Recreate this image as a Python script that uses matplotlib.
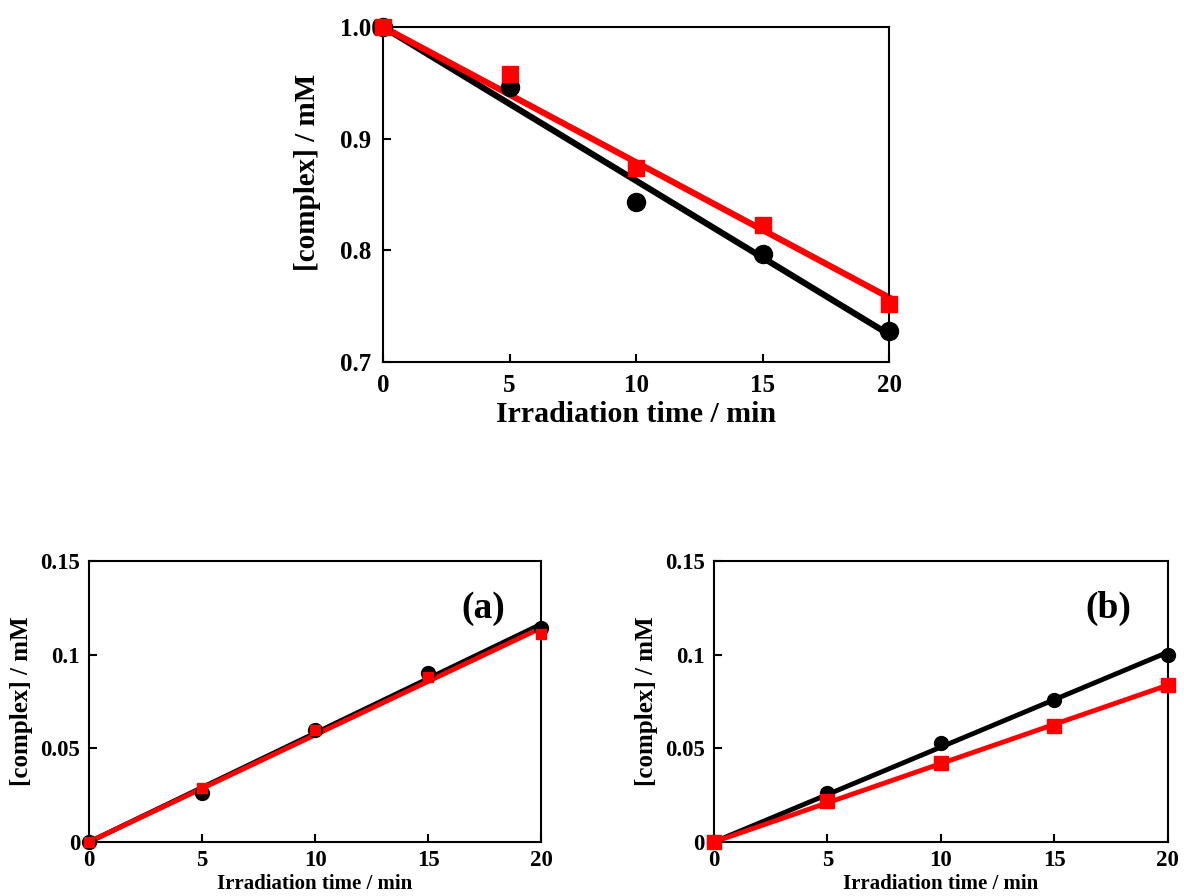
import matplotlib.pyplot as plt
import numpy as np

plt.rcParams['font.family'] = 'Liberation Serif'
plt.rcParams['font.weight'] = 'bold'

t = [0, 5, 10, 15, 20]

# top panel
top_black = [1.000, 0.946, 0.843, 0.797, 0.728]
top_red = [1.000, 0.958, 0.874, 0.823, 0.752]

# panel (a)
a_black = [0.000, 0.026, 0.060, 0.090, 0.114]
a_red = [0.000, 0.029, 0.060, 0.088, 0.111]

# panel (b)
b_black = [0.000, 0.026, 0.053, 0.076, 0.100]
b_red = [0.000, 0.022, 0.042, 0.062, 0.084]

fig = plt.figure(figsize=(11.84, 8.96), dpi=100)


def fitline(ax, x, y, color, lw):
    # least squares line forced through the first point
    x = np.asarray(x, float)
    y = np.asarray(y, float)
    k = np.sum((x - x[0]) * (y - y[0])) / np.sum((x - x[0]) ** 2)
    xx = np.array([x[0], x[-1]])
    ax.plot(xx, y[0] + k * (xx - x[0]), color=color, lw=lw, clip_on=False, zorder=2)


def style(ax, fs, xpad, ypad):
    for s in ax.spines.values():
        s.set_linewidth(1.5)
    ax.tick_params(direction='in', length=6, width=1.5, labelsize=fs)
    ax.tick_params(axis='x', pad=xpad)
    ax.tick_params(axis='y', pad=ypad)


# top
ax = fig.add_axes([0.3235, 0.596, 0.4274, 0.3739])
fitline(ax, t, top_black, 'black', 4.5)
fitline(ax, t, top_red, 'red', 4.5)
ax.plot(t, top_black, 'o', color='black', ms=13, clip_on=False, zorder=3)
ax.plot(t, top_red, 's', color='red', ms=12, clip_on=False, zorder=4)
ax.set_xlim(0, 20)
ax.set_ylim(0.7, 1.0)
ax.set_xticks([0, 5, 10, 15, 20])
ax.set_yticks([0.7, 0.8, 0.9, 1.0])
ax.set_yticklabels(['0.7', '0.8', '0.9', '1.00'])
style(ax, 18, 9, 31)
for lab in ax.get_yticklabels():
    lab.set_horizontalalignment('left')
ax.set_xlabel('Irradiation time / min', fontsize=21.5, fontweight='bold')
ax.xaxis.set_label_coords(0.5, -0.115)
ax.set_ylabel('[complex] / mM', fontsize=21, fontweight='bold')
ax.yaxis.set_label_coords(-0.122, 0.567)

# bottom panels
panels = [
    ([0.0752, 0.0603, 0.3818, 0.3136], a_black, a_red, '(a)', 7),
    ([0.603, 0.0603, 0.3834, 0.3136], b_black, b_red, '(b)', 9.5),
]
for pos, yb, yr, tag, sq in panels:
    ax = fig.add_axes(pos)
    fitline(ax, t, yb, 'black', 3.5)
    fitline(ax, t, yr, 'red', 3.5)
    ax.plot(t, yb, 'o', color='black', ms=10, clip_on=False, zorder=3)
    ax.plot(t, yr, 's', color='red', ms=sq, clip_on=False, zorder=4)
    ax.set_xlim(0, 20)
    ax.set_ylim(0, 0.15)
    ax.set_xticks([0, 5, 10, 15, 20])
    ax.set_yticks([0, 0.05, 0.1, 0.15])
    ax.set_yticklabels(['0', '0.05', '0.1', '0.15'])
    style(ax, 16.5, 6, 6.5)
    ax.set_xlabel('Irradiation time / min', fontsize=15, fontweight='bold')
    ax.xaxis.set_label_coords(0.5, -0.115)
    ax.set_ylabel('[complex] / mM', fontsize=18, fontweight='bold')
    ax.yaxis.set_label_coords(-0.124, 0.5)
    ax.text(0.92, 0.83, tag, transform=ax.transAxes, fontsize=27, fontweight='bold',
            ha='right', va='center')

fig.savefig('out.png', dpi=100)
